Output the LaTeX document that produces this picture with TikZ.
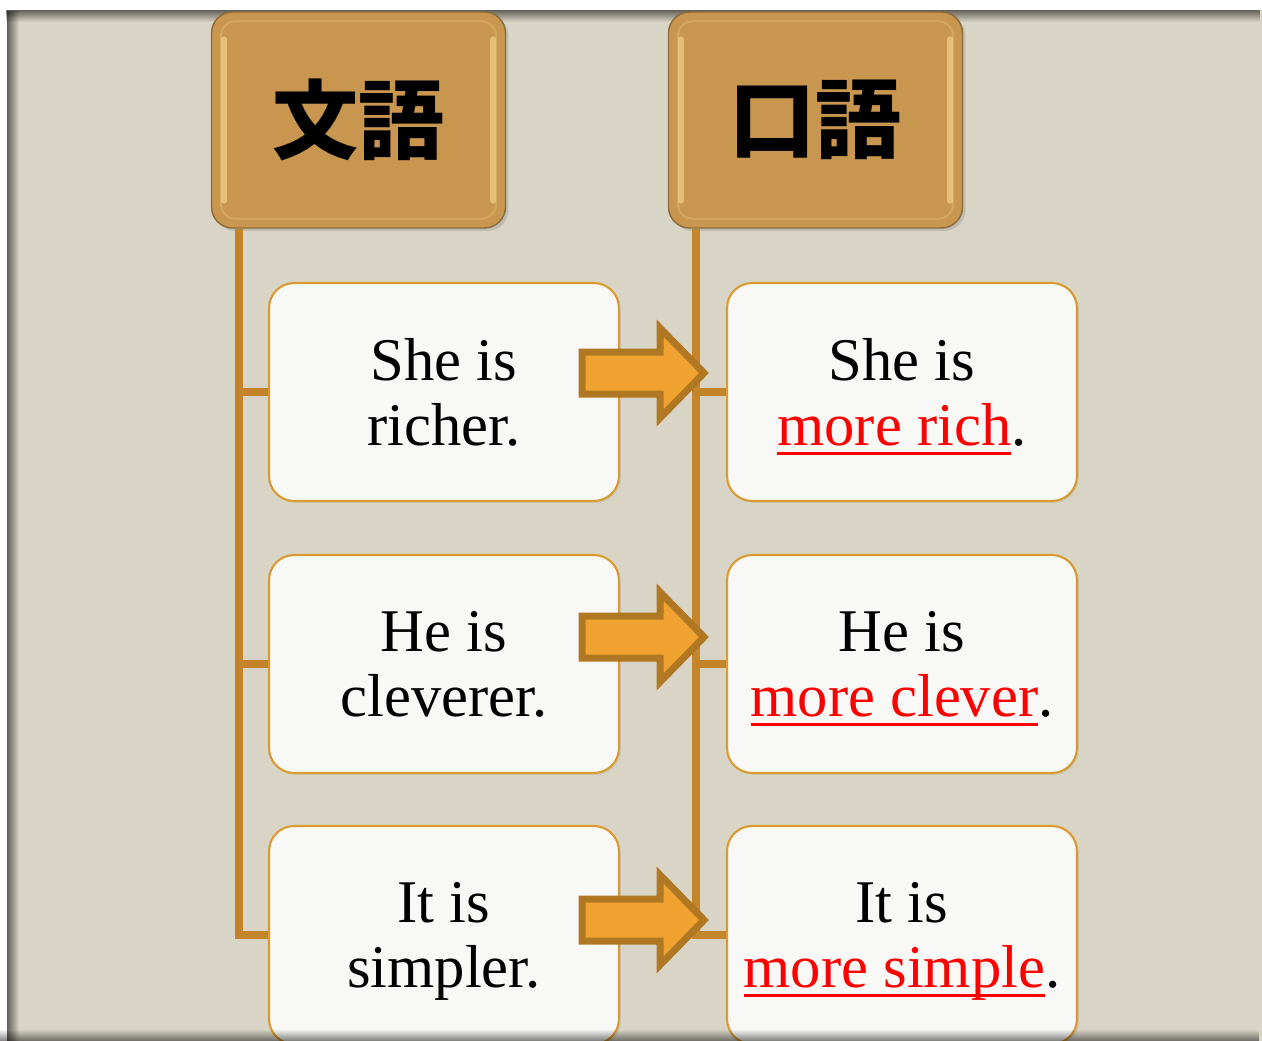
\documentclass[tikz,border=0pt]{standalone}
\usepackage{fontspec}
\setmainfont{Liberation Serif}
\newfontfamily\cjk{Noto Sans CJK JP}
\usetikzlibrary{calc}
\usetikzlibrary{fadings}
\usetikzlibrary{shadows}
\definecolor{mbeige}{HTML}{D9D5C6}
\definecolor{mgold}{HTML}{C8964F}
\definecolor{mgoldlight}{HTML}{F2D08A}
\definecolor{mgoldedge}{HTML}{8C6A3A}
\definecolor{mtrunk}{HTML}{C4842A}
\definecolor{mpaper}{HTML}{F8F8F6}
\definecolor{mpaperedge}{HTML}{DA9A30}
\definecolor{marrow}{HTML}{EFA22F}
\definecolor{marrowedge}{HTML}{B07822}
\definecolor{mred}{HTML}{FF0000}
\newcommand{\redul}[1]{\sbox0{\color{mred}#1}\rlap{\color{mred}\rule[-5.6pt]{\wd0}{2.2pt}}\usebox0}
\tikzset{headbox/.style = {draw = mgoldedge, line width = 0.8pt, fill = mgold, rounded corners = 0.42cm,
    minimum width = 5.88cm, minimum height = 4.32cm,
    drop shadow = {opacity = 0.3, shadow xshift = 0.06cm, shadow yshift = -0.06cm},
    font = \cjk\bfseries\fontsize{49}{49}\selectfont}}
\tikzset{bevel/.style = {draw = mgoldlight, line width = 0.04cm, opacity = 0.3, rounded corners = 0.3cm}}
\tikzset{shine/.style = {draw = mgoldlight, line width = 0.12cm, opacity = 0.7, line cap = round}}
\tikzset{sentbox/.style = {draw = mpaperedge, line width = 1.2pt, fill = mpaper, rounded corners = 0.5cm,
    minimum width = 7cm, minimum height = 4.36cm, align = center, text depth = 0pt,
    drop shadow = {opacity = 0.15, shadow xshift = 0.04cm, shadow yshift = -0.04cm},
    font = \fontsize{34.5}{37}\selectfont}}
\tikzset{trunk/.style = {draw = mtrunk, line width = 0.16cm}}
\tikzset{blockarrow/.style = {draw = marrowedge, fill = marrow, line width = 0.14cm}}

\begin{document}
\begin{tikzpicture}[x = 0.02cm, y = -0.02cm]
    \useasboundingbox (0, 0) rectangle (1262, 1041);

    % frame
    \fill [white] (0, 0) rectangle (1262, 1041);
    \fill [mbeige] (7, 10) rectangle (1262, 1041);
    \fill [black, opacity = 0.55, path fading = south] (7, 10) rectangle (1262, 22);
    \fill [black, opacity = 0.55, path fading = east] (7, 10) rectangle (19, 1041);

    % headers
    \node [headbox] (lit) at (358.5, 120) {文語};
    \node [headbox] (col) at (815.5, 120) {口語};
    \draw [bevel] ($(lit.north west) + (10, 10)$) rectangle ($(lit.south east) + (-10, -10)$);
    \draw [bevel] ($(col.north west) + (10, 10)$) rectangle ($(col.south east) + (-10, -10)$);
    \draw [shine] ($(lit.north west) + (13, 28)$) -- ($(lit.south west) + (13, -28)$);
    \draw [shine] ($(lit.north east) + (-13, 28)$) -- ($(lit.south east) + (-13, -28)$);
    \draw [shine] ($(col.north west) + (13, 28)$) -- ($(col.south west) + (13, -28)$);
    \draw [shine] ($(col.north east) + (-13, 28)$) -- ($(col.south east) + (-13, -28)$);

    % sentences
    \node [sentbox] (l1) at (444, 392) {She is\\richer.};
    \node [sentbox] (l2) at (444, 664) {He is\\cleverer.};
    \node [sentbox] (l3) at (444, 935) {It is\\simpler.};

    \node [sentbox] (r1) at (902, 392) {She is\\\redul{more rich}.};
    \node [sentbox] (r2) at (902, 664) {He is\\\redul{more clever}.};
    \node [sentbox] (r3) at (902, 935) {It is\\\redul{more simple}.};

    % trunks
    \draw [trunk] ($(lit.south west) + (28, 0)$) |- (l3.west);
    \draw [trunk] (l1.west) -- ++(-30, 0);
    \draw [trunk] (l2.west) -- ++(-30, 0);

    \draw [trunk] ($(col.south west) + (28, 0)$) |- (r3.west);
    \draw [trunk] (r1.west) -- ++(-30, 0);
    \draw [trunk] (r2.west) -- ++(-30, 0);

    % arrows
    \draw [blockarrow] ($(l1.east) + (-38, -40)$) -- ++(78, 0) -- ++(0, -24) -- ++(44, 45)
        -- ++(-44, 45) -- ++(0, -24) -- ++(-78, 0) -- cycle;
    \draw [blockarrow] ($(l2.east) + (-38, -48)$) -- ++(78, 0) -- ++(0, -24) -- ++(44, 45)
        -- ++(-44, 45) -- ++(0, -24) -- ++(-78, 0) -- cycle;
    \draw [blockarrow] ($(l3.east) + (-38, -36)$) -- ++(78, 0) -- ++(0, -24) -- ++(44, 45)
        -- ++(-44, 45) -- ++(0, -24) -- ++(-78, 0) -- cycle;

    \fill [black, opacity = 0.5, path fading = north] (0, 1029) rectangle (1262, 1041);
\end{tikzpicture}
\end{document}
